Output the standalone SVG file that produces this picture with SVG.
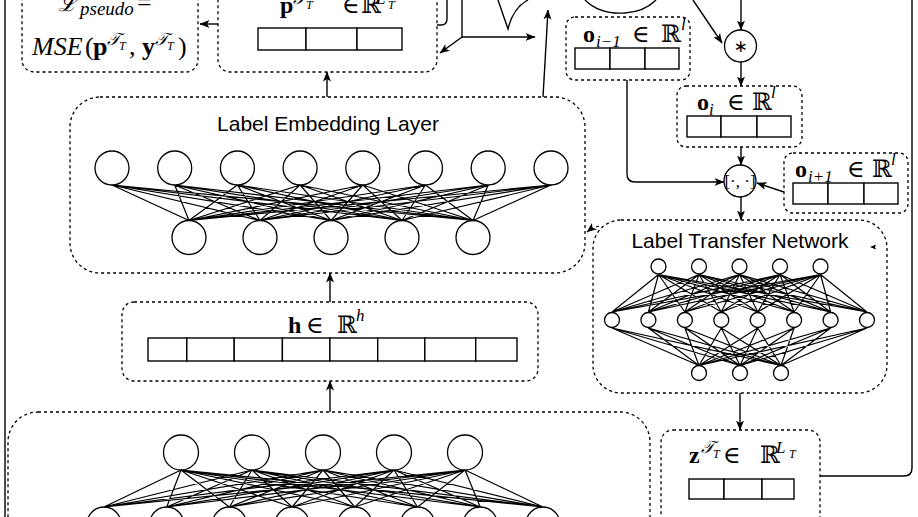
<svg xmlns="http://www.w3.org/2000/svg" width="918" height="517" viewBox="0 0 918 517">
<defs>
<marker id="ah" viewBox="0 0 10 10" refX="9.5" refY="5" markerWidth="10" markerHeight="10" markerUnits="userSpaceOnUse" orient="auto"><path d="M0,1 L10,5 L0,9 L2.5,5 z" fill="#000"/></marker>
</defs>
<style>
.dash{fill:none;stroke:#000;stroke-width:1.3;stroke-dasharray:3 3}
.cell{fill:#fff;stroke:#000;stroke-width:1.4}
.neu{fill:#fff;stroke:#000;stroke-width:1.3}
.edge{fill:none;stroke:#000;stroke-width:1.2;stroke-linejoin:round}
.con{fill:none;stroke:#000;stroke-width:1.4}
.arr{marker-end:url(#ah)}
.t{font-family:"Liberation Sans",Arial,sans-serif;font-size:21px;fill:#000}
.m{font-family:"Liberation Serif","DejaVu Serif",serif;font-size:24px;fill:#000}
.s{font-size:17px}
.ss{font-size:12px}
.b{font-weight:bold}
.i{font-style:italic}
.r{font-family:"DejaVu Serif","DejaVu Sans",serif}
</style>
<rect width="918" height="517" fill="#fff"/>

<g id="connectors">
<path class="con" d="M5,0 L5,517"/>
<path class="con arr" d="M218,24 L200,24"/>
<path class="con arr" d="M327,97 L327,72"/>
<path class="con arr" d="M330,302 L330,273"/>
<path class="con arr" d="M330,412 L330,381"/>
<path class="con arr" d="M543,97 L548,10"/>
<path class="con" d="M447,0 L447,19 Q447,25 441,25 L437,25"/>
<path class="con" d="M462,0 L462,37"/>
<path class="con arr" d="M462,37 L535,37"/>
<path class="con arr" d="M462,37 L440,53"/>
<path class="con" d="M498,0 L508,29 Q513,8 528,0"/>
<path class="con" d="M585,0 C595,10 610,14 625,13 C640,12 650,6 656,0"/>
<path class="con arr" d="M693,0 L722,43"/>
<path class="con arr" d="M741,0 L741,30"/>
<path class="con arr" d="M741,62 L741,86"/>
<path class="con arr" d="M627,80 L627,174 Q627,182 635,182 L724,182"/>
<path class="con arr" d="M741,147 L741,165"/>
<path class="con arr" d="M784,192 L757,183"/>
<path class="con arr" d="M741,197 L741,220"/>
<path class="con arr" d="M740,393 L740,430"/>
<path class="con" d="M820,476 L904,476 Q912,476 912,468 L912,0"/>
<path class="dash arr" d="M599,226 Q592,228 587,232"/>
<path d="M870,247 L876,244.5 L875,247 L876,249.5 z" fill="#000"/>
</g>

<g id="loss-node">
<rect class="dash" x="22" y="-30" width="176" height="102" rx="12"/>
<text class="m"><tspan class="i" x="58" y="11" style="font-size:23px">ℒ</tspan><tspan class="i" x="80" y="15" style="font-size:19px">pseudo</tspan><tspan x="137" y="11" style="font-size:26px">=</tspan></text>
<text class="m" style="font-size:26px"><tspan class="i" x="32" y="55">MSE</tspan><tspan x="85" y="55">(</tspan><tspan class="b" x="93" y="55">p</tspan><tspan class="i s" x="107" y="45">𝒯</tspan><tspan class="i ss" x="119" y="50">T</tspan><tspan x="129" y="55">,</tspan><tspan class="b" x="142" y="55">y</tspan><tspan class="i s" x="155" y="45">𝒯</tspan><tspan class="i ss" x="167" y="50">T</tspan><tspan x="178" y="55">)</tspan></text>
</g>

<g id="p-node">
<rect class="dash" x="218" y="-30" width="219" height="102" rx="12"/>
<text class="m"><tspan class="b" x="280" y="13">p</tspan><tspan class="i s" x="293" y="4">𝒯</tspan><tspan class="i ss" x="306" y="9">T</tspan><tspan x="342" y="13">∈</tspan><tspan class="r" x="361" y="13">ℝ</tspan><tspan class="i s" x="376" y="4">L</tspan><tspan class="i ss" x="388" y="9">T</tspan></text>
<rect class="cell" x="258" y="28" width="48" height="22"/>
<rect class="cell" x="306" y="28" width="51" height="22"/>
<rect class="cell" x="357" y="28" width="45" height="22"/>
</g>

<g id="o-prev-node">
<rect class="dash" x="566" y="17" width="124" height="63" rx="9"/>
<text class="m"><tspan class="b" x="583" y="42">o</tspan><tspan class="i s" x="596" y="47">i−1</tspan><tspan x="632" y="42">∈</tspan><tspan class="r" x="661" y="42">ℝ</tspan><tspan class="i s" x="681" y="30">l</tspan></text>
<rect class="cell" x="575" y="48" width="35" height="21"/>
<rect class="cell" x="610" y="48" width="35" height="21"/>
<rect class="cell" x="645" y="48" width="34" height="21"/>
</g>

<g id="mul-node">
<circle class="neu" cx="740.5" cy="46" r="16"/>
<text x="740.5" y="52" text-anchor="middle" style="font-family:'DejaVu Sans',sans-serif;font-size:17px">∗</text>
</g>

<g id="o-cur-node">
<rect class="dash" x="677" y="86" width="125" height="61" rx="9"/>
<text class="m"><tspan class="b" x="697" y="110">o</tspan><tspan class="i s" x="709" y="115">i</tspan><tspan x="727" y="110">∈</tspan><tspan class="r" x="752" y="110">ℝ</tspan><tspan class="i s" x="771" y="98">l</tspan></text>
<rect class="cell" x="687" y="116" width="34" height="21"/>
<rect class="cell" x="721" y="116" width="36" height="21"/>
<rect class="cell" x="757" y="116" width="34" height="21"/>
</g>

<g id="concat-node">
<circle class="neu" cx="740" cy="181" r="16"/>
<text x="740" y="187" text-anchor="middle" class="m" style="font-size:17px">[·, ·]</text>
</g>

<g id="o-next-node">
<rect class="dash" x="784" y="153" width="124" height="60" rx="9"/>
<text class="m"><tspan class="b" x="795" y="177">o</tspan><tspan class="i s" x="808" y="182">i+1</tspan><tspan x="847" y="177">∈</tspan><tspan class="r" x="872" y="177">ℝ</tspan><tspan class="i s" x="891" y="165">l</tspan></text>
<rect class="cell" x="793" y="183" width="35" height="21"/>
<rect class="cell" x="828" y="183" width="36" height="21"/>
<rect class="cell" x="864" y="183" width="34" height="21"/>
</g>

<g id="label-embedding-layer">
<rect class="dash" x="70" y="97" width="515" height="176" rx="30"/>
<text class="t" x="328" y="131" text-anchor="middle">Label Embedding Layer</text>
<path class="edge" d="M189,220.5L112,185L260,220.5L112,185L331,220.5L112,185L402,220.5L112,185L473,220.5
M189,220.5L174.7,185L260,220.5L174.7,185L331,220.5L174.7,185L402,220.5L174.7,185L473,220.5
M189,220.5L237.4,185L260,220.5L237.4,185L331,220.5L237.4,185L402,220.5L237.4,185L473,220.5
M189,220.5L300.1,185L260,220.5L300.1,185L331,220.5L300.1,185L402,220.5L300.1,185L473,220.5
M189,220.5L362.8,185L260,220.5L362.8,185L331,220.5L362.8,185L402,220.5L362.8,185L473,220.5
M189,220.5L425.5,185L260,220.5L425.5,185L331,220.5L425.5,185L402,220.5L425.5,185L473,220.5
M189,220.5L488.2,185L260,220.5L488.2,185L331,220.5L488.2,185L402,220.5L488.2,185L473,220.5
M189,220.5L551,185L260,220.5L551,185L331,220.5L551,185L402,220.5L551,185L473,220.5"/>
<circle class="neu" cx="112" cy="168" r="17"/>
<circle class="neu" cx="174.7" cy="168" r="17"/>
<circle class="neu" cx="237.4" cy="168" r="17"/>
<circle class="neu" cx="300.1" cy="168" r="17"/>
<circle class="neu" cx="362.8" cy="168" r="17"/>
<circle class="neu" cx="425.5" cy="168" r="17"/>
<circle class="neu" cx="488.2" cy="168" r="17"/>
<circle class="neu" cx="551" cy="168" r="17"/>
<circle class="neu" cx="189" cy="237.5" r="17"/>
<circle class="neu" cx="260" cy="237.5" r="17"/>
<circle class="neu" cx="331" cy="237.5" r="17"/>
<circle class="neu" cx="402" cy="237.5" r="17"/>
<circle class="neu" cx="473" cy="237.5" r="17"/>
</g>

<g id="label-transfer-network">
<rect class="dash" x="593" y="220" width="294" height="173" rx="28"/>
<text class="t" x="740" y="248" text-anchor="middle">Label Transfer Network</text>
<path class="edge" d="M612,312L658.5,274.5L648.4,312L658.5,274.5L684.9,312L658.5,274.5L721.3,312L658.5,274.5L757.7,312L658.5,274.5L794.1,312L658.5,274.5L830.6,312L658.5,274.5L867,312
M612,312L699,274.5L648.4,312L699,274.5L684.9,312L699,274.5L721.3,312L699,274.5L757.7,312L699,274.5L794.1,312L699,274.5L830.6,312L699,274.5L867,312
M612,312L739.5,274.5L648.4,312L739.5,274.5L684.9,312L739.5,274.5L721.3,312L739.5,274.5L757.7,312L739.5,274.5L794.1,312L739.5,274.5L830.6,312L739.5,274.5L867,312
M612,312L780,274.5L648.4,312L780,274.5L684.9,312L780,274.5L721.3,312L780,274.5L757.7,312L780,274.5L794.1,312L780,274.5L830.6,312L780,274.5L867,312
M612,312L820.5,274.5L648.4,312L820.5,274.5L684.9,312L820.5,274.5L721.3,312L820.5,274.5L757.7,312L820.5,274.5L794.1,312L820.5,274.5L830.6,312L820.5,274.5L867,312
M612,328L699,365.5L648.4,328L699,365.5L684.9,328L699,365.5L721.3,328L699,365.5L757.7,328L699,365.5L794.1,328L699,365.5L830.6,328L699,365.5L867,328
M612,328L740,365.5L648.4,328L740,365.5L684.9,328L740,365.5L721.3,328L740,365.5L757.7,328L740,365.5L794.1,328L740,365.5L830.6,328L740,365.5L867,328
M612,328L781,365.5L648.4,328L781,365.5L684.9,328L781,365.5L721.3,328L781,365.5L757.7,328L781,365.5L794.1,328L781,365.5L830.6,328L781,365.5L867,328"/>
<circle class="neu" cx="658.5" cy="266.5" r="7.5"/>
<circle class="neu" cx="699" cy="266.5" r="7.5"/>
<circle class="neu" cx="739.5" cy="266.5" r="7.5"/>
<circle class="neu" cx="780" cy="266.5" r="7.5"/>
<circle class="neu" cx="820.5" cy="266.5" r="7.5"/>
<circle class="neu" cx="612" cy="320" r="7.5"/>
<circle class="neu" cx="648.4" cy="320" r="7.5"/>
<circle class="neu" cx="684.9" cy="320" r="7.5"/>
<circle class="neu" cx="721.3" cy="320" r="7.5"/>
<circle class="neu" cx="757.7" cy="320" r="7.5"/>
<circle class="neu" cx="794.1" cy="320" r="7.5"/>
<circle class="neu" cx="830.6" cy="320" r="7.5"/>
<circle class="neu" cx="867" cy="320" r="7.5"/>
<circle class="neu" cx="699" cy="373" r="7.5"/>
<circle class="neu" cx="740" cy="373" r="7.5"/>
<circle class="neu" cx="781" cy="373" r="7.5"/>
</g>

<g id="h-node">
<rect class="dash" x="122" y="302" width="416" height="79" rx="12"/>
<text class="m"><tspan class="b" x="288" y="333">h</tspan><tspan x="306" y="333">∈</tspan><tspan class="r" x="337" y="333">ℝ</tspan><tspan class="i s" x="356" y="321">h</tspan></text>
<rect class="cell" x="148" y="338" width="38.8" height="23"/>
<rect class="cell" x="186.8" y="338" width="47.4" height="23"/>
<rect class="cell" x="234.2" y="338" width="48.2" height="23"/>
<rect class="cell" x="282.4" y="338" width="47.5" height="23"/>
<rect class="cell" x="329.9" y="338" width="47.8" height="23"/>
<rect class="cell" x="377.7" y="338" width="47.1" height="23"/>
<rect class="cell" x="424.8" y="338" width="50.9" height="23"/>
<rect class="cell" x="475.7" y="338" width="41.3" height="23"/>
</g>

<g id="encoder">
<rect class="dash" x="8" y="412" width="642" height="150" rx="30"/>
<path class="edge" d="M104,507L181,470L166.7,507L181,470L229.4,507L181,470L292.1,507L181,470L354.8,507L181,470L417.5,507L181,470L480.2,507L181,470L542.9,507
M104,507L252,470L166.7,507L252,470L229.4,507L252,470L292.1,507L252,470L354.8,507L252,470L417.5,507L252,470L480.2,507L252,470L542.9,507
M104,507L323,470L166.7,507L323,470L229.4,507L323,470L292.1,507L323,470L354.8,507L323,470L417.5,507L323,470L480.2,507L323,470L542.9,507
M104,507L394,470L166.7,507L394,470L229.4,507L394,470L292.1,507L394,470L354.8,507L394,470L417.5,507L394,470L480.2,507L394,470L542.9,507
M104,507L465,470L166.7,507L465,470L229.4,507L465,470L292.1,507L465,470L354.8,507L465,470L417.5,507L465,470L480.2,507L465,470L542.9,507"/>
<circle class="neu" cx="181" cy="452.5" r="17.5"/>
<circle class="neu" cx="252" cy="452.5" r="17.5"/>
<circle class="neu" cx="323" cy="452.5" r="17.5"/>
<circle class="neu" cx="394" cy="452.5" r="17.5"/>
<circle class="neu" cx="465" cy="452.5" r="17.5"/>
<circle class="neu" cx="104" cy="524" r="17"/>
<circle class="neu" cx="166.7" cy="524" r="17"/>
<circle class="neu" cx="229.4" cy="524" r="17"/>
<circle class="neu" cx="292.1" cy="524" r="17"/>
<circle class="neu" cx="354.8" cy="524" r="17"/>
<circle class="neu" cx="417.5" cy="524" r="17"/>
<circle class="neu" cx="480.2" cy="524" r="17"/>
<circle class="neu" cx="542.9" cy="524" r="17"/>
</g>

<g id="z-node">
<rect class="dash" x="661" y="430" width="159" height="110" rx="12"/>
<text class="m"><tspan class="b" x="689" y="463">z</tspan><tspan class="i s" x="701" y="453">𝒯</tspan><tspan class="i ss" x="713" y="458">T</tspan><tspan x="723" y="463">∈</tspan><tspan class="r" x="760" y="463">ℝ</tspan><tspan class="i s" x="776" y="453">L</tspan><tspan class="i ss" x="789" y="458">T</tspan></text>
<rect class="cell" x="689" y="479" width="35" height="20"/>
<rect class="cell" x="724" y="479" width="38" height="20"/>
<rect class="cell" x="762" y="479" width="32" height="20"/>
</g>
</svg>
